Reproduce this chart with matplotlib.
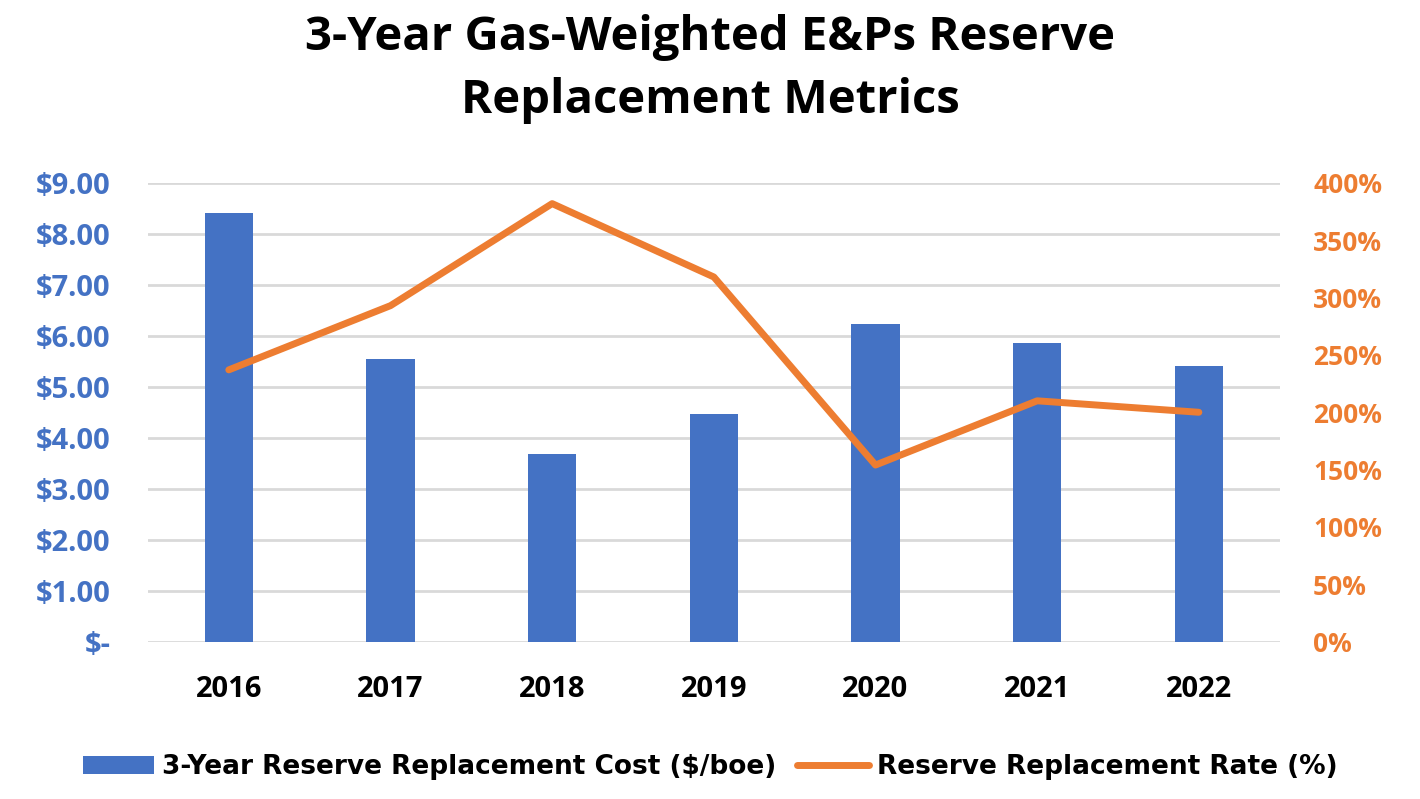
import numpy as np
import matplotlib
matplotlib.use("Agg")
import matplotlib.pyplot as plt
from matplotlib.ticker import FuncFormatter, MultipleLocator

years = ["2016", "2017", "2018", "2019", "2020", "2021", "2022"]
cost = [8.42, 5.55, 3.68, 4.47, 6.24, 5.85, 5.40]      # $/boe
rate = [237, 293, 382, 318, 154, 210, 200]              # %

BLUE = "#4472C4"
ORANGE = "#ED7D31"
FONT = ["Open Sans", "DejaVu Sans"]

plt.rcParams["font.family"] = FONT
plt.rcParams["font.weight"] = "bold"

fig = plt.figure(figsize=(14.2, 7.99), dpi=100)
ax = fig.add_axes([0.1042, 0.197, 0.797, 0.574])
ax2 = ax.twinx()

x = np.arange(len(years))
bars = ax.bar(x, cost, width=0.30, color=BLUE, zorder=3,
              label="3-Year Reserve Replacement Cost ($/boe)")
line, = ax2.plot(x, rate, color=ORANGE, lw=5, solid_capstyle="round",
                 label="Reserve Replacement Rate (%)")

ax.set_xlim(-0.5, len(years) - 0.5)
ax.set_ylim(0, 9)
ax2.set_ylim(0, 400)
ax.yaxis.set_major_locator(MultipleLocator(1))
ax2.yaxis.set_major_locator(MultipleLocator(50))
ax.yaxis.set_major_formatter(FuncFormatter(lambda v, p: "$-" if v == 0 else f"${v:.2f}"))
ax2.yaxis.set_major_formatter(FuncFormatter(lambda v, p: f"{v:.0f}%"))

ax.grid(axis="y", color="#D9D9D9", lw=2, zorder=0)
for a in (ax, ax2):
    for s in a.spines.values():
        s.set_visible(False)
    a.tick_params(length=0)

ax.set_xticks(x)
ax.set_xticklabels(years)
ax.tick_params(axis="x", labelsize=21, labelcolor="black", pad=24)
ax.tick_params(axis="y", labelsize=21, labelcolor=BLUE, pad=27)
ax2.tick_params(axis="y", labelsize=19, labelcolor=ORANGE, pad=24)
for t in ax.get_yticklabels() + ax2.get_yticklabels() + ax.get_xticklabels():
    t.set_fontweight("bold")

fig.text(0.5, 0.983, "3-Year Gas-Weighted E&Ps Reserve\nReplacement Metrics",
         ha="center", va="top", fontsize=34, fontweight="bold",
         linespacing=1.45)

leg = fig.legend([bars, line], [bars.get_label(), line.get_label()],
                 loc="center", bbox_to_anchor=(0.5, 0.04), ncol=2,
                 frameon=False, handlelength=2.7, handletextpad=0.3,
                 columnspacing=0.8,
                 prop={"family": "DejaVu Sans", "weight": "bold", "size": 19})

fig.savefig("out.png", dpi=100)
